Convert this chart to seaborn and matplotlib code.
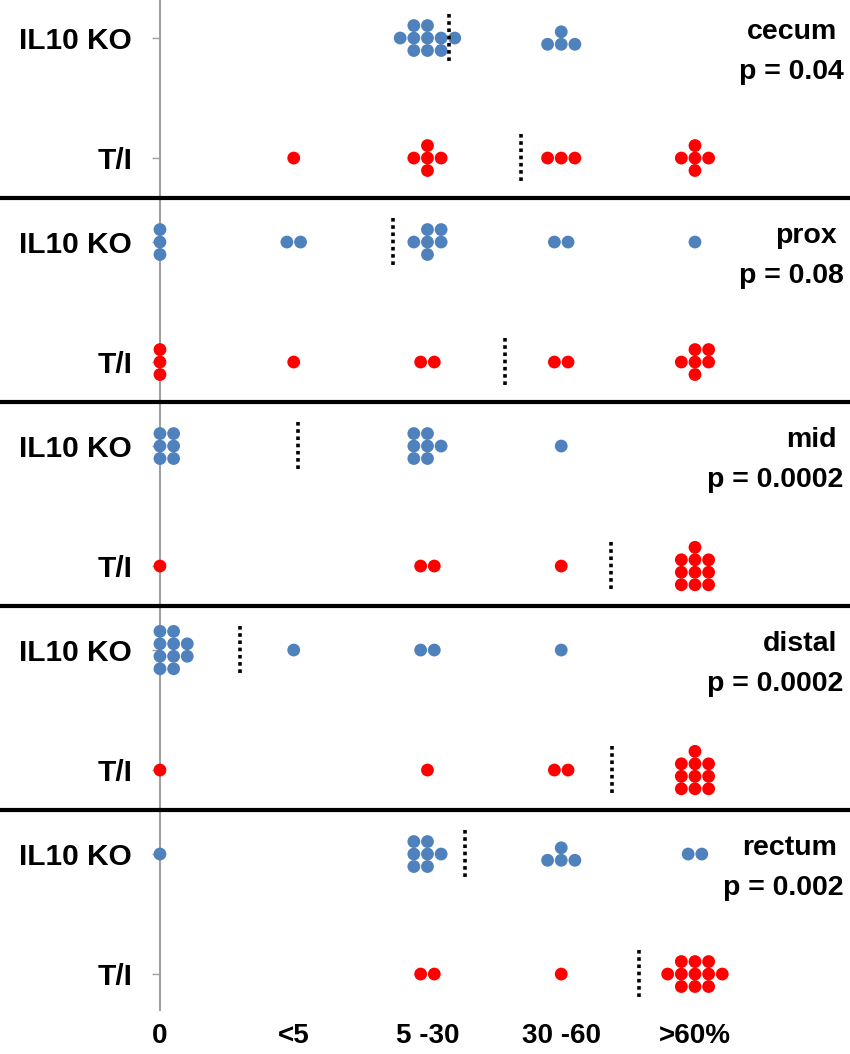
import math
import numpy as np
import pandas as pd
import matplotlib
matplotlib.use("Agg")
import matplotlib.pyplot as plt
from matplotlib import font_manager
import seaborn as sns

# ---------------- data ----------------
categories = ["0", "<5", "5 -30", "30 -60", ">60%"]
segments = ["cecum", "prox", "mid", "distal", "rectum"]
pvalues = ["p = 0.04", "p = 0.08", "p = 0.0002", "p = 0.0002", "p = 0.002"]
groups = ["IL10 KO", "T/I"]

ko_counts = [
    [0, 0, 10, 4, 0],   # cecum
    [3, 2, 6, 2, 1],    # prox
    [6, 0, 7, 1, 0],    # mid
    [10, 1, 2, 1, 0],   # distal
    [1, 0, 7, 4, 2],    # rectum
]
ti_counts = [
    [0, 1, 5, 3, 5],
    [3, 1, 2, 2, 6],
    [1, 0, 2, 1, 10],
    [1, 0, 1, 2, 10],
    [0, 0, 2, 1, 11],
]
ko_median = [2.16, 1.74, 1.03, 0.60, 2.28]
ti_median = [2.70, 2.58, 3.37, 3.38, 3.58]

# ---------------- layout helpers ----------------
PANEL = 1.7       # vertical distance between panels
DX, DY = 0.102, 0.104
ROW_PATTERNS = {1: [1], 2: [2], 3: [3], 4: [1, 3], 5: [1, 3, 1], 6: [2, 3, 1],
                7: [2, 3, 2], 8: [3, 3, 2], 9: [3, 3, 3], 10: [1, 3, 3, 3],
                11: [3, 5, 3]}
WIDE_PATTERNS = {10: [2, 5, 3]}
RIGHT_ALIGNED = {6}


def cluster_offsets(n, at_zero, wide=False):
    if n == 0:
        return []
    if at_zero:
        nrows = min(n, 3 if n <= 9 else 4)
        base = n // nrows
        rows = [base] * nrows
        extra = n - base * nrows
        mid = (nrows - 1) / 2
        order = sorted(range(nrows), key=lambda i: abs(i - mid))
        for i in order[:extra]:
            rows[i] += 1
        pts = []
        for r, k in enumerate(rows):
            for c in range(k):
                pts.append((c * DX, (r - (nrows - 1) / 2) * DY))
        return pts
    rows = WIDE_PATTERNS.get(n, ROW_PATTERNS[n]) if wide else ROW_PATTERNS[n]
    W = max(rows)
    pts = []
    for r, k in enumerate(rows):
        start = math.ceil((W - k) / 2) if n in RIGHT_ALIGNED else (W - k) // 2
        for c in range(k):
            col = start + c - (W - 1) / 2
            pts.append((col * DX, (r - (len(rows) - 1) / 2) * DY))
    return pts


recs = []
for p, seg in enumerate(segments):
    for g, counts in zip(groups, [ko_counts[p], ti_counts[p]]):
        ybase = p * PANEL + (0 if g == "IL10 KO" else 1)
        for ci, n in enumerate(counts):
            wide = (ci == 2)
            for ox, oy in cluster_offsets(n, ci == 0, wide):
                recs.append({"x": ci + ox, "y": ybase + oy, "group": g})
df = pd.DataFrame(recs)

# ---------------- plot ----------------
sns.set_style("white")
plt.rcParams["font.family"] = ["Liberation Sans", "DejaVu Sans"]
plt.rcParams["text.color"] = "black"
plt.rcParams["xtick.color"] = "black"
plt.rcParams["ytick.color"] = "black"
plt.rcParams["xtick.labelcolor"] = "black"
plt.rcParams["ytick.labelcolor"] = "black"

fig = plt.figure(figsize=(8.5, 10.54), dpi=100)
ax = fig.add_axes([0, 0.0417, 1, 0.9583])

sns.scatterplot(data=df, x="x", y="y", hue="group",
                palette={"IL10 KO": "#4F81BD", "T/I": "#FF0000"},
                s=85, linewidth=0, legend=False, ax=ax, clip_on=False, zorder=3)

ax.set_xlim(-1.196, 5.159)
ax.set_ylim(8.1, -0.317)

# median lines
for p in range(len(segments)):
    for k, med in enumerate([ko_median[p], ti_median[p]]):
        yc = p * PANEL + k
        ax.plot([med, med], [yc - 0.2, yc + 0.2], color="black", lw=2.6,
                linestyle=(0, (1, 1)), solid_capstyle="butt", dash_capstyle="butt", zorder=4)

# separators
for p in range(len(segments) - 1):
    ax.axhline(p * PANEL + 1.333, color="black", lw=3, zorder=5)

# panel labels
for p, seg in enumerate(segments):
    ax.text(5.06, p * PANEL - 0.05, seg, ha="right", va="center",
            fontsize=20.5, fontweight="bold", color="black")
    ax.text(5.11, p * PANEL + 0.28, pvalues[p], ha="right", va="center",
            fontsize=20.5, fontweight="bold", color="black")

# axes styling
for side in ["top", "right", "bottom"]:
    ax.spines[side].set_visible(False)
ax.spines["left"].set_position(("data", 0))
ax.spines["left"].set_color("#A0A0A0")
ax.spines["left"].set_linewidth(1.5)
ax.spines["left"].set_zorder(1)

yt = []
yl = []
for p in range(len(segments)):
    yt += [p * PANEL, p * PANEL + 1]
    yl += groups
ax.set_yticks(yt)
ax.set_yticklabels(yl, fontsize=21.5, fontweight="bold", color="black")
ax.tick_params(axis="y", which="both", left=True, length=6, width=1,
               color="#A0A0A0", pad=14)

names = {f.name for f in font_manager.fontManager.ttflist}
xfam = ["Liberation Sans Narrow"] if "Liberation Sans Narrow" in names else ["Liberation Sans"]
ax.set_xticks(range(len(categories)))
ax.set_xticklabels(categories, fontsize=22 if xfam[0].endswith("Narrow") else 20,
                   fontweight="bold", color="black", family=xfam + ["DejaVu Sans"])
ax.tick_params(axis="x", bottom=False, pad=6)
ax.set_xlabel("")
ax.set_ylabel("")
ax.grid(False)

fig.savefig("out.png", dpi=100)
